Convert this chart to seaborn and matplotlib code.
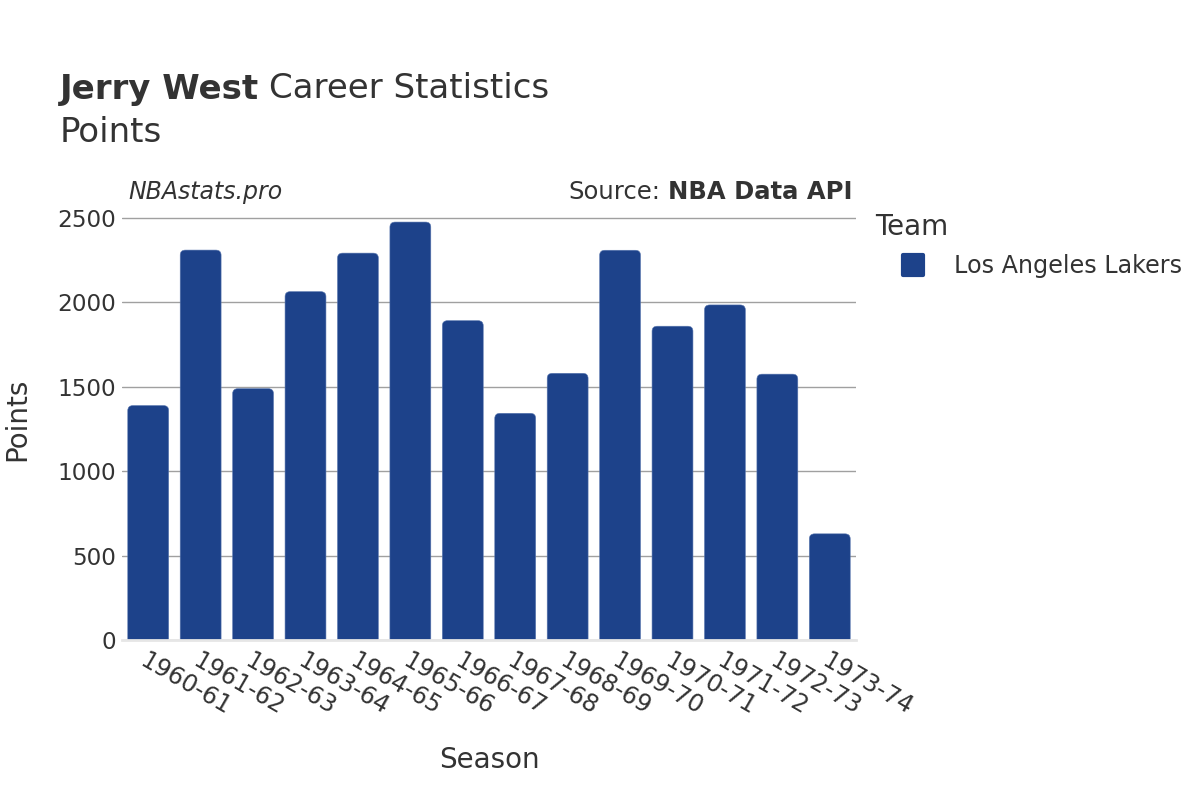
import matplotlib
matplotlib.use("Agg")
import matplotlib.pyplot as plt
import seaborn as sns
import pandas as pd
from matplotlib.patches import FancyBboxPatch
from matplotlib.lines import Line2D
from matplotlib.markers import MarkerStyle

seasons = ["1960-61", "1961-62", "1962-63", "1963-64", "1964-65", "1965-66", "1966-67",
           "1967-68", "1968-69", "1969-70", "1970-71", "1971-72", "1972-73", "1973-74"]
points = [1389, 2310, 1489, 2064, 2292, 2476, 1892, 1343, 1580, 2309, 1859, 1985, 1575, 629]
teams = ["Los Angeles Lakers"] * len(seasons)
yticks = [0, 500, 1000, 1500, 2000, 2500]

BAR = "#1d428a"
TXT = "#333333"

df = pd.DataFrame({"Season": seasons, "Points": points, "Team": teams})

sns.set_theme(style="white")
plt.rcParams["font.family"] = ["DejaVu Sans"]

fig = plt.figure(figsize=(12, 8), dpi=100)
ax = fig.add_axes([122/1200, 1 - 640/800, (856-122)/1200, (640-210)/800])

sns.barplot(data=df, x="Season", y="Points", hue="Team", palette=[BAR],
            width=0.78, ax=ax, legend=False, saturation=1)

ymax = 2500 * 430 / 422
ax.set_ylim(0, ymax)
ax.set_xlim(-0.5, len(seasons) - 0.5)

# rounded top corners
rx = 0.1
ry = 5 * ymax / 430
for p in list(ax.patches):
    x, y, w, h = p.get_x(), p.get_y(), p.get_width(), p.get_height()
    fb = FancyBboxPatch((x, y - ry), w, h + ry,
                        boxstyle=f"round,pad=0,rounding_size={rx}",
                        mutation_aspect=ry / rx,
                        facecolor=BAR, edgecolor="#5a78b0", linewidth=0.4, zorder=3)
    p.remove()
    ax.add_patch(fb)

ax.set_yticks(yticks)
ax.yaxis.grid(True, color="#a0a0a0", linewidth=1)
ax.set_axisbelow(True)
for s in ["top", "right", "left"]:
    ax.spines[s].set_visible(False)
ax.spines["bottom"].set_color("#e6e6e6")
ax.spines["bottom"].set_linewidth(2)
ax.spines["bottom"].set_zorder(4)

ax.tick_params(axis="y", labelsize=16.7, colors=TXT, length=0, pad=4)
ax.tick_params(axis="x", labelsize=17.3, colors=TXT, length=0, pad=6)
for lab in ax.get_xticklabels():
    lab.set_rotation(-30)
    lab.set_ha("left")
    lab.set_va("top")
    lab.set_rotation_mode("anchor")
    lab.set_color(TXT)

ax.set_xlabel("Season", fontsize=20, color=TXT, va="center")
ax.set_ylabel("Points", fontsize=20, color=TXT, va="center")
ax.xaxis.set_label_coords((489 - 122) / 734, -(760 - 640) / 430)
ax.yaxis.set_label_coords(-(122 - 17) / 734, (640 - 419) / 430)

# titles
t1 = fig.text(60/1200, 1 - 89/800, "Jerry West", fontsize=24.5, fontweight="bold",
              color=TXT, va="center", ha="left")
fig.canvas.draw()
bb = t1.get_window_extent()
fig.text(bb.x1 / 1200 + 0.008, 1 - 89/800, "Career Statistics", fontsize=24.5,
         color=TXT, va="center", ha="left")
fig.text(60/1200, 1 - 133/800, "Points", fontsize=24.5, color=TXT, va="center", ha="left")

fig.text(128/1200, 1 - 192/800, "NBAstats.pro", fontsize=17, style="italic",
         color=TXT, va="center", ha="left")
s2 = fig.text(852/1200, 1 - 192/800, "NBA Data API", fontsize=17.5, fontweight="bold",
              color=TXT, va="center", ha="right")
fig.canvas.draw()
bb2 = s2.get_window_extent()
fig.text(bb2.x0 / 1200 - 0.006, 1 - 192/800, "Source:", fontsize=17.5,
         color=TXT, va="center", ha="right")

# legend
fig.text(875/1200, 1 - 227/800, "Team", fontsize=20, color=TXT, va="center", ha="left")
handle = Line2D([0], [0], marker=MarkerStyle("s", joinstyle="round"), linestyle="none",
                markersize=14, markeredgewidth=3,
                markerfacecolor=BAR, markeredgecolor=BAR)
leg = fig.legend([handle], ["Los Angeles Lakers"], loc="center left",
                 bbox_to_anchor=(889/1200, 1 - 266/800), frameon=False,
                 fontsize=17.2, handletextpad=0.72, borderaxespad=0, borderpad=0)
for t in leg.get_texts():
    t.set_color(TXT)

fig.savefig("out.png", dpi=100, facecolor="white")
